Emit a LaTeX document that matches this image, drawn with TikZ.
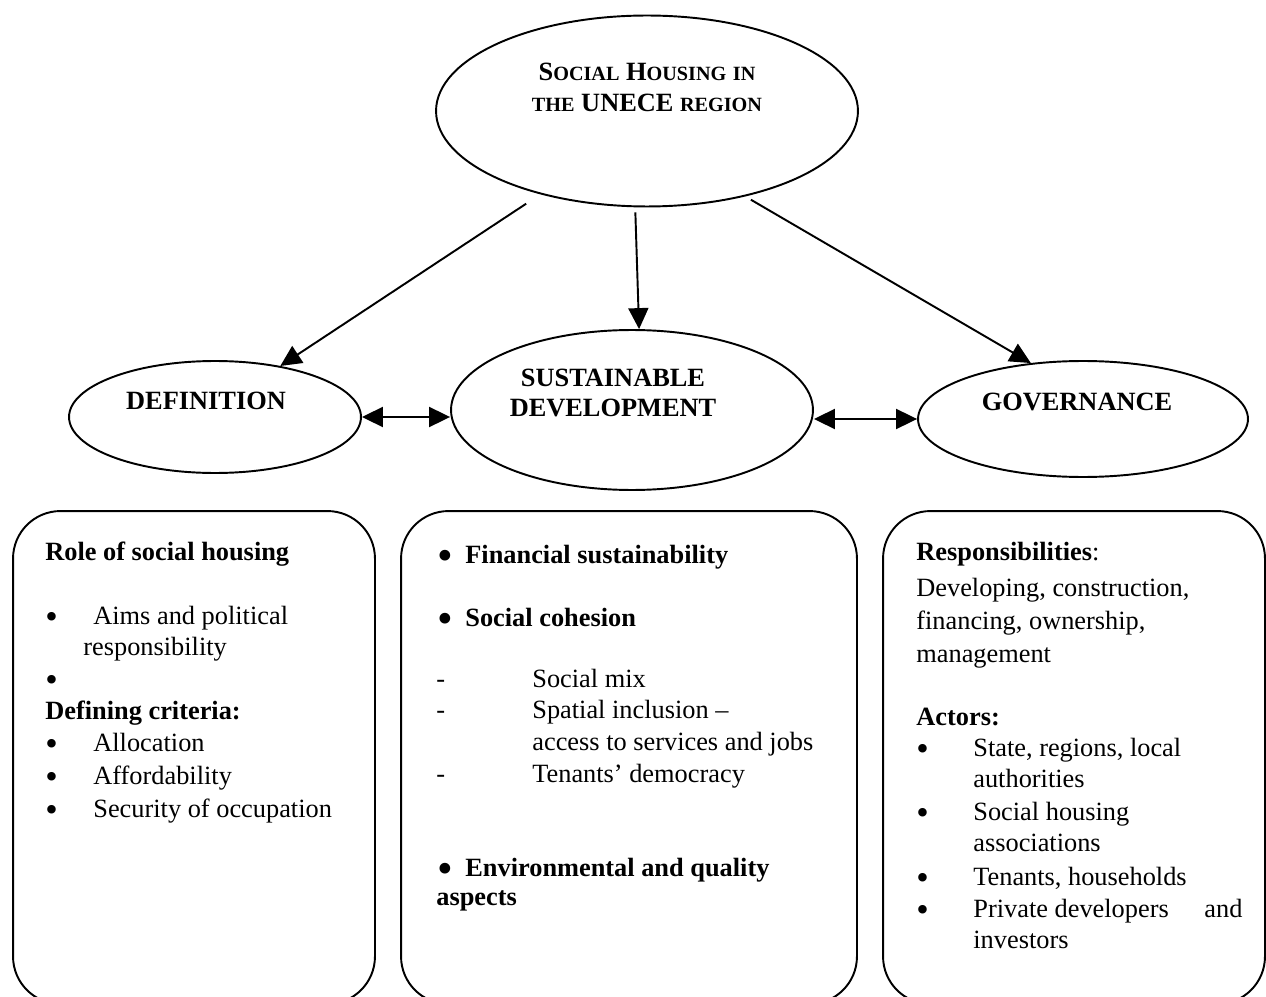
\documentclass[tikz,border=0pt]{standalone}
\usepackage{fontspec}
\usepackage{graphicx}
\setmainfont{Liberation Serif}
\usetikzlibrary{arrows.meta,shapes.geometric}

\tikzset{
  ell/.style={draw, ellipse, line width=1.1pt, inner sep=0pt},
  lbl/.style={font=\bfseries\fontsize{15}{17.6}\selectfont, align=center, inner sep=0pt},
  arr/.style={-{Triangle[length=0.42cm,width=0.4cm]}, line width=1.1pt},
  dbl/.style={{Triangle[length=0.42cm,width=0.4cm]}-{Triangle[length=0.42cm,width=0.4cm]}, line width=1.1pt},
  panel/.style={draw, rectangle, rounded corners=0.95cm, line width=1.1pt, inner sep=0pt, minimum height=9.86cm},
  line/.style={anchor=base west, inner sep=0pt, font=\fontsize{15}{18}\selectfont},
}
\newcommand{\smc}[1]{{\fontsize{11.5}{17.6}\selectfont #1}}
\newcommand{\blt}{\smash{\raisebox{-2.5pt}{\scalebox{1.35}{\textbullet}}}}
\newcommand{\bigdot}{\smash{\raisebox{-4.2pt}{\scalebox{1.7}{\textbullet}}}}

\begin{document}
\begin{tikzpicture}[x=0.02cm, y=-0.02cm]
\useasboundingbox (0,0) rectangle (1266,996);
\clip (0,0) rectangle (1266,996);

% ellipses
\node[ell, minimum width=8.44cm, minimum height=3.82cm] (shu) at (647,111) {};
\node[lbl] (shutxt) at (647,87) {S\smc{OCIAL} H\smc{OUSING} \smc{IN}\\ \smc{THE} UNECE \smc{REGION}};
\node[ell, minimum width=5.84cm, minimum height=2.24cm] (defn) at (215,417) {};
\node[lbl] (defntxt) at (206,401) {DEFINITION};
\node[ell, minimum width=7.24cm, minimum height=3.2cm] (sustd) at (632,410) {};
\node[lbl] (sustdtxt) at (613,393) {SUSTAINABLE\\DEVELOPMENT};
\node[ell, minimum width=6.6cm, minimum height=2.32cm] (gov) at (1083,419) {};
\node[lbl] (govtxt) at (1077,402) {GOVERNANCE};

% arrows
\draw[arr, shorten <=0.34cm] (shu.218) -- (defn.38);
\draw[arr, shorten <=0.1cm] (shu.263) -- (sustd.85);
\draw[arr, shorten <=0.13cm] (shu.319) -- (gov.133);
\draw[dbl] (defn.east) -- (defn.east -| sustd.west);
\draw[dbl] (gov.west -| sustd.east) -- (gov.west);

% boxes
\node[panel, minimum width=7.24cm] (rolebox) at (194,757.5) {};
\node[panel, minimum width=9.12cm] (sustbox) at (629,757.5) {};
\node[panel, minimum width=7.64cm] (govbox) at (1074,757.5) {};

% left box
\foreach \x/\y/\t [count=\i] in {
  45/560/{\textbf{Role of social housing}},
  45/624/\blt, 93/624/{Aims and political},
  83/655/responsibility,
  45/687/\blt,
  45/719/{\textbf{Defining criteria:}},
  45/751/\blt, 93/751/Allocation,
  45/784/\blt, 93/784/Affordability,
  45/817/\blt, 93/817/{Security of occupation}}
  \node[line] (role-\i) at (\x,\y) {\t};

% middle box
\foreach \x/\y/\t [count=\i] in {
  437/563/\bigdot, 465/563/{\textbf{Financial sustainability}},
  437/626/\bigdot, 465/626/{\textbf{Social cohesion}},
  436/687/-, 532/687/{Social mix},
  436/718/-, 532/718/{Spatial inclusion --},
  532/750/{access to services and jobs},
  436/782/-, 532/782/{Tenants’ democracy},
  437/876/\bigdot, 465/876/{\textbf{Environmental and quality}},
  436/905/{\textbf{aspects}}}
  \node[line] (sust-\i) at (\x,\y) {\t};

% right box
\foreach \x/\y/\t [count=\i] in {
  916/560/{\textbf{Responsibilities}:},
  916/596/{Developing, construction,},
  916/629/{financing, ownership,},
  916/662/management,
  916/725/{\textbf{Actors:}},
  916/756/\blt, 973/756/{State, regions, local},
  973/787/authorities,
  916/820/\blt, 973/820/{Social housing},
  973/851/associations,
  916/885/\blt, 973/885/{Tenants, households},
  916/917/\blt, 973/917/{Private developers}, 1204/917/and,
  973/948/investors}
  \node[line] (gov-\i) at (\x,\y) {\t};
\end{tikzpicture}
\end{document}
